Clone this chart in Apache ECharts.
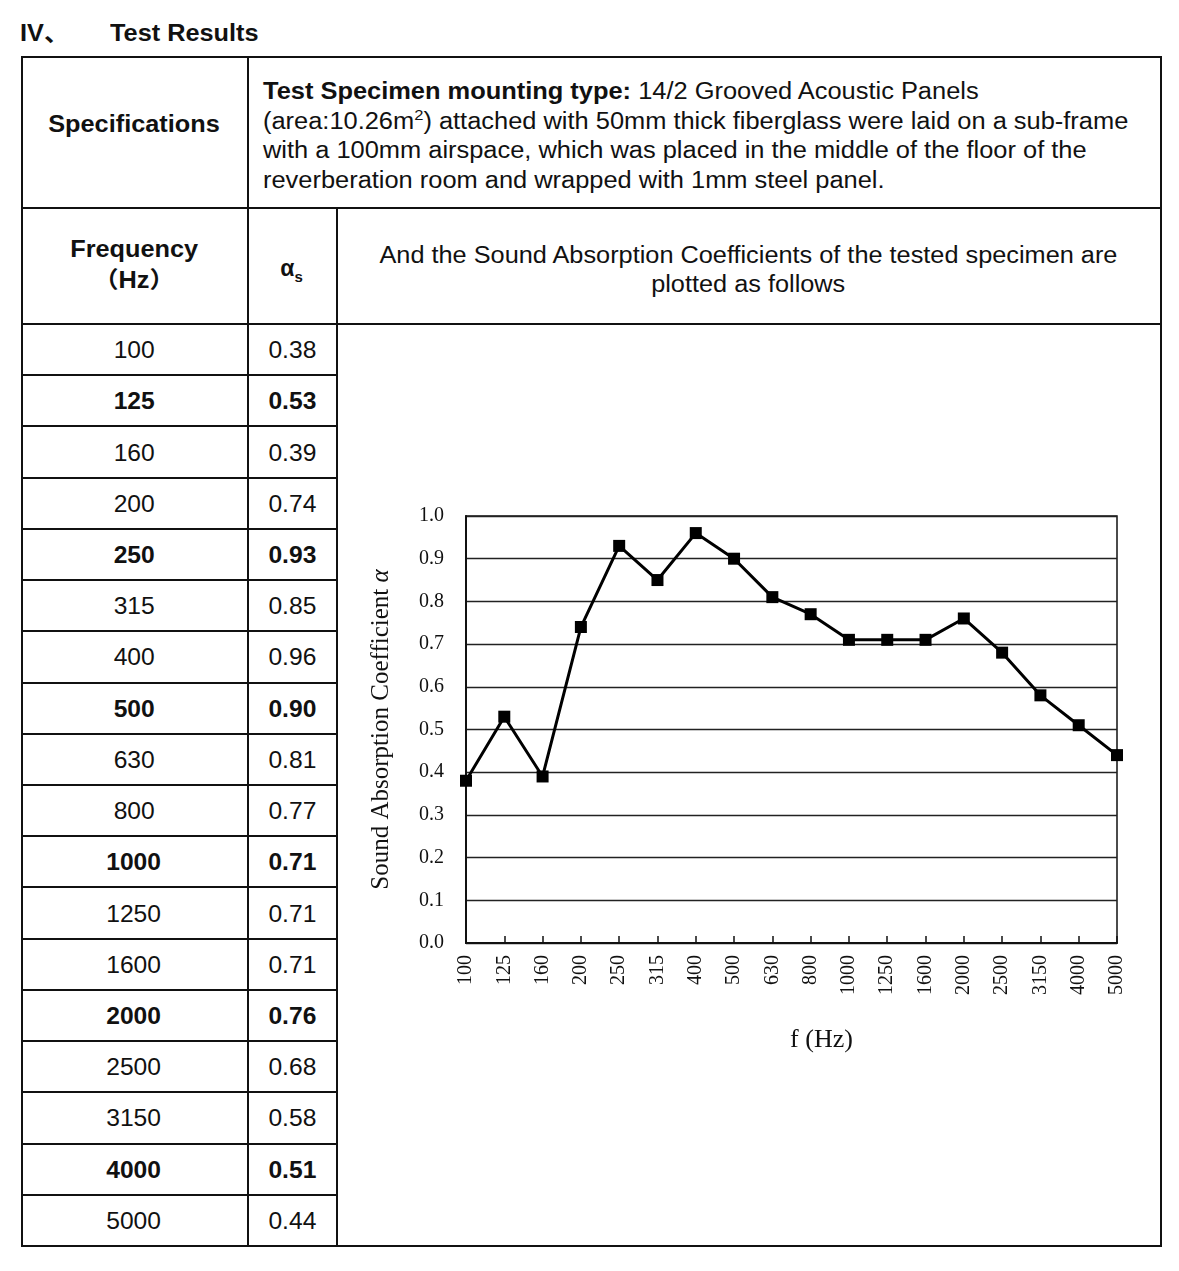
<!DOCTYPE html>
<html><head><meta charset="utf-8">
<script src="https://cdn.jsdelivr.net/npm/echarts/dist/echarts.min.js"></script>
<style>
body{margin:0;background:#fff;width:1179px;height:1271px;position:relative;overflow:hidden;font-family:"Liberation Sans",Arial,"Noto Sans CJK SC",sans-serif;color:#111;}
.abs{position:absolute;white-space:nowrap;}
.ln{position:absolute;background:#111;}
.cell{position:absolute;display:flex;align-items:center;justify-content:center;font-size:23px;}
.cell span{display:inline-block;transform:scaleX(1.07);}
.sx{display:inline-block;transform:scaleX(1.1);}
</style></head><body>
<div id="page"></div>
<div id="chart" style="position:absolute;left:338px;top:325px;width:820px;height:918px;"></div>
<script>
// ---- data ----
const frequencies = ['100','125','160','200','250','315','400','500','630','800','1000','1250','1600','2000','2500','3150','4000','5000'];
const alphaValues = [0.38,0.53,0.39,0.74,0.93,0.85,0.96,0.90,0.81,0.77,0.71,0.71,0.71,0.76,0.68,0.58,0.51,0.44];
const yAxisName = 'Sound Absorption Coefficient ';
const xAxisName = 'f (Hz)';

// ---- table (HTML) ----
const page = document.getElementById('page');
function add(html){ page.insertAdjacentHTML('beforeend', html); }
function hline(x,y,w,t){ add(`<div class="ln" style="left:${x}px;top:${y}px;width:${w}px;height:${t||2}px"></div>`); }
function vline(x,y,h,t){ add(`<div class="ln" style="left:${x}px;top:${y}px;width:${t||2}px;height:${h}px"></div>`); }

add('<div class="abs" style="left:20px;top:19px;font-weight:bold;font-size:23px;line-height:28px;transform:scaleX(1.1);transform-origin:left center">IV、</div>');
add('<div class="abs" style="left:110px;top:19px;font-weight:bold;font-size:23px;line-height:28px;transform:scaleX(1.1);transform-origin:left center">Test Results</div>');

const L=21, R=1160, T=56, B=1245, C1=247, C2=336, Y1=207, Y2=323;
hline(L,T,R-L+2); hline(L,Y1,R-L+2); hline(L,Y2,R-L+2); hline(L,B,R-L+2);
vline(L,T,B-T+2); vline(C1,T,B-T+2); vline(C2,Y1,B-Y1+2); vline(R,T,B-T+2);

add('<div class="abs" style="left:'+L+'px;top:'+T+'px;width:'+(C1-L)+'px;height:'+(Y1-T-14)+'px;display:flex;align-items:center;justify-content:center;font-weight:bold;font-size:23px"><span class="sx">Specifications</span></div>');
add('<div class="abs" style="left:263px;top:77px;font-size:23px;line-height:29.5px;transform:scaleX(1.105);transform-origin:left top">'+
  '<b>Test Specimen mounting type:</b> 14/2 Grooved Acoustic Panels<br>'+
  '(area:10.26m<sup style="font-size:15px;line-height:0">2</sup>) attached with 50mm thick fiberglass were laid on a sub-frame<br>'+
  'with a 100mm airspace, which was placed in the middle of the floor of the<br>'+
  'reverberation room and wrapped with 1mm steel panel.</div>');
add('<div class="abs" style="left:'+L+'px;top:234px;width:'+(C1-L)+'px;text-align:center;font-weight:bold;font-size:23px;line-height:31px"><span class="sx">Frequency</span><br><span class="sx">（Hz）</span></div>');
add('<div class="abs" style="left:'+C1+'px;top:254px;width:'+(C2-C1)+'px;text-align:center;font-weight:bold;font-size:23px;line-height:28px">α<sub style="font-size:15px;line-height:0">s</sub></div>');
add('<div class="abs" style="left:'+C2+'px;top:241px;width:'+(R-C2)+'px;text-align:center;font-size:23px;line-height:29px"><span class="sx">And the Sound Absorption Coefficients of the tested specimen are</span><br><span class="sx">plotted as follows</span></div>');

const rowH = (B - Y2) / frequencies.length;
frequencies.forEach((f,i)=>{
  const top = Y2 + i*rowH;
  if(i>0) hline(L, Math.round(top), C2-L+2);
  const bold = (i % 3 === 1) ? 'font-weight:bold;' : '';
  add(`<div class="cell" style="left:${L}px;top:${top+2}px;width:${C1-L}px;height:${rowH}px;${bold}"><span>${f}</span></div>`);
  add(`<div class="cell" style="left:${C1+2}px;top:${top+2}px;width:${C2-C1-2}px;height:${rowH}px;${bold}"><span>${alphaValues[i].toFixed(2)}</span></div>`);
});

// ---- chart ----
const chart = echarts.init(document.getElementById('chart'));
const serif = '"Liberation Serif","Times New Roman",serif';
chart.setOption({
  animation:false,
  grid:{left:128, top:191, width:651, height:427, show:true, borderColor:'#111', borderWidth:1.5, containLabel:false},
  xAxis:{
    type:'category', data:frequencies, boundaryGap:false,
    name:xAxisName, nameLocation:'middle', nameGap:84,
    nameTextStyle:{fontFamily:serif, fontSize:26, color:'#111', padding:[0,0,0,60]},
    axisLine:{show:true, lineStyle:{color:'#111', width:2}},
    axisTick:{show:true, inside:true, length:7, lineStyle:{color:'#111', width:1.5}},
    axisLabel:{rotate:90, margin:12, fontFamily:serif, fontSize:20, color:'#111', interval:0},
    splitLine:{show:false}
  },
  yAxis:{
    type:'value', min:0, max:1, interval:0.1,
    name:yAxisName+'{i|α}', nameLocation:'middle', nameGap:72,
    nameTextStyle:{fontFamily:serif, fontSize:25, color:'#111', padding:[0,0,0,0], rich:{i:{fontFamily:serif, fontSize:25, fontStyle:'italic', color:'#111'}}},
    axisLine:{show:true, lineStyle:{color:'#111', width:2}},
    axisTick:{show:false},
    axisLabel:{margin:22, fontFamily:serif, fontSize:20, color:'#111', formatter:v=>v.toFixed(1)},
    splitLine:{show:true, lineStyle:{color:'#222', width:1.3}}
  },
  series:[{
    type:'line', data:alphaValues,
    symbol:'rect', symbolSize:12,
    lineStyle:{color:'#000', width:3},
    itemStyle:{color:'#000'}
  }]
});
</script>
</body></html>
